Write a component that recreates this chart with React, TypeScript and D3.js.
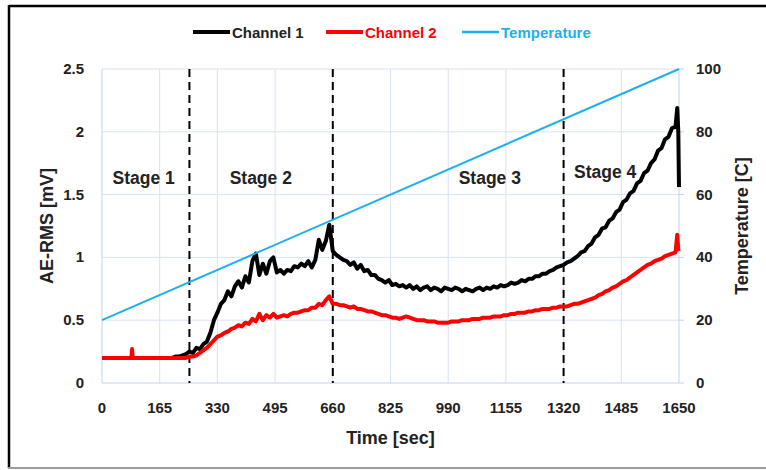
import React from "react";
import * as d3 from "d3";

// Sample times [sec]
const time = [
  0, 10, 20, 30, 40, 50, 60, 70, 80, 84, 86, 88, 90, 100, 110, 120, 130, 140, 150, 160,
  170, 180, 190, 200, 210, 220, 230, 240, 250, 260, 270, 280, 290, 300, 310, 320, 330, 340, 350, 360,
  370, 380, 390, 400, 410, 420, 430, 440, 450, 460, 470, 480, 490, 500, 510, 520, 530, 540, 550, 560,
  570, 580, 590, 600, 610, 620, 630, 640, 650, 660, 670, 680, 690, 700, 710, 720, 730, 740, 750, 760,
  770, 780, 790, 800, 810, 820, 830, 840, 850, 860, 870, 880, 890, 900, 910, 920, 930, 940, 950, 960,
  970, 980, 990, 1000, 1010, 1020, 1030, 1040, 1050, 1060, 1070, 1080, 1090, 1100, 1110, 1120, 1130, 1140, 1150, 1160,
  1170, 1180, 1190, 1200, 1210, 1220, 1230, 1240, 1250, 1260, 1270, 1280, 1290, 1300, 1310, 1320, 1330, 1340, 1350, 1360,
  1370, 1380, 1390, 1400, 1410, 1420, 1430, 1440, 1450, 1460, 1470, 1480, 1490, 1500, 1510, 1520, 1530, 1540, 1550, 1560,
  1570, 1580, 1590, 1600, 1610, 1620, 1630, 1640, 1645, 1648, 1650,
];

// AE-RMS, channel 1 [mV]
const channel1 = [
  0.2, 0.2, 0.2, 0.2, 0.2, 0.2, 0.2, 0.2, 0.2, 0.2, 0.2, 0.2, 0.2, 0.2, 0.2, 0.2, 0.2, 0.2, 0.2, 0.2,
  0.2, 0.2, 0.2, 0.2, 0.21, 0.21, 0.22, 0.23, 0.25, 0.24, 0.28, 0.27, 0.31, 0.33, 0.4, 0.5, 0.56, 0.63, 0.66, 0.73,
  0.69, 0.77, 0.81, 0.76, 0.85, 0.8, 0.97, 1.03, 0.86, 0.95, 0.87, 0.97, 1.0, 0.88, 0.9, 0.87, 0.9, 0.89, 0.93, 0.92,
  0.95, 0.93, 0.97, 0.92, 0.98, 1.14, 1.06, 1.13, 1.26, 1.05, 1.02, 1.0, 0.98, 0.97, 0.94, 0.96, 0.91, 0.94, 0.89, 0.9,
  0.86, 0.86, 0.83, 0.82, 0.8, 0.82, 0.78, 0.79, 0.77, 0.78, 0.76, 0.78, 0.75, 0.77, 0.74, 0.76, 0.77, 0.74, 0.76, 0.75,
  0.73, 0.76, 0.75, 0.74, 0.76, 0.75, 0.73, 0.75, 0.74, 0.73, 0.75, 0.76, 0.74, 0.76, 0.75, 0.77, 0.76, 0.78, 0.77, 0.78,
  0.8, 0.79, 0.8, 0.82, 0.81, 0.83, 0.83, 0.85, 0.85, 0.87, 0.87, 0.89, 0.9, 0.92, 0.93, 0.94, 0.96, 0.97, 0.99, 1.01,
  1.04, 1.05, 1.09, 1.11, 1.16, 1.18, 1.23, 1.24, 1.29, 1.31, 1.36, 1.38, 1.44, 1.46, 1.51, 1.53, 1.59, 1.61, 1.67, 1.69,
  1.75, 1.78, 1.85, 1.87, 1.94, 1.96, 2.03, 2.04, 2.19, 2.0, 1.56,
];

// AE-RMS, channel 2 [mV]
const channel2 = [
  0.2, 0.2, 0.2, 0.2, 0.2, 0.2, 0.2, 0.2, 0.2, 0.2, 0.27, 0.2, 0.2, 0.2, 0.2, 0.2, 0.2, 0.2, 0.2, 0.2,
  0.2, 0.2, 0.2, 0.2, 0.2, 0.2, 0.2, 0.2, 0.21, 0.21, 0.22, 0.24, 0.26, 0.28, 0.31, 0.34, 0.37, 0.38, 0.4, 0.41,
  0.43, 0.44, 0.46, 0.45, 0.48, 0.47, 0.51, 0.49, 0.55, 0.5, 0.54, 0.52, 0.55, 0.52, 0.53, 0.54, 0.53, 0.55, 0.56, 0.56,
  0.57, 0.58, 0.58, 0.6, 0.6, 0.63, 0.62, 0.66, 0.69, 0.63, 0.63, 0.62, 0.62, 0.61, 0.6, 0.61, 0.59, 0.59, 0.58, 0.57,
  0.57, 0.56, 0.55, 0.54, 0.54, 0.53, 0.52, 0.52, 0.51, 0.52, 0.53, 0.52, 0.51, 0.5, 0.5, 0.5, 0.49, 0.49, 0.49, 0.48,
  0.48, 0.48, 0.48, 0.49, 0.49, 0.49, 0.5, 0.5, 0.5, 0.51, 0.51, 0.51, 0.52, 0.52, 0.52, 0.53, 0.53, 0.53, 0.54, 0.54,
  0.55, 0.55, 0.56, 0.56, 0.56, 0.57, 0.57, 0.58, 0.58, 0.59, 0.59, 0.59, 0.6, 0.6, 0.61, 0.61, 0.61, 0.62, 0.63, 0.63,
  0.64, 0.65, 0.66, 0.67, 0.68, 0.7, 0.71, 0.73, 0.74, 0.76, 0.77, 0.79, 0.81, 0.82, 0.84, 0.86, 0.88, 0.9, 0.92, 0.94,
  0.95, 0.97, 0.98, 0.99, 1.01, 1.02, 1.03, 1.04, 1.18, 1.06, 1.05,
];

// Heating ramp [C]
const tempTime = [0, 1650];
const temperature = [20, 100];

const xTicks = [0, 165, 330, 495, 660, 825, 990, 1155, 1320, 1485, 1650];
const yTicksLeft = [0, 0.5, 1, 1.5, 2, 2.5];
const yTicksRight = [0, 20, 40, 60, 80, 100];

// Stage boundaries [sec] and labels
const stageBounds = [250, 660, 1320];
const stageLabels = [
  { name: "Stage 1", t: 30, v: 1.585 },
  { name: "Stage 2", t: 365, v: 1.585 },
  { name: "Stage 3", t: 1020, v: 1.585 },
  { name: "Stage 4", t: 1350, v: 1.63 },
];

const legendItems = [
  { name: "Channel 1", color: "#000000" },
  { name: "Channel 2", color: "#ff0000" },
  { name: "Temperature", color: "#1cb0ec" },
];

const FONT = "'Liberation Sans', Arial, sans-serif";

export default function App() {
  const left = 102;
  const right = 679;
  const top = 69;
  const bottom = 383;

  const x = d3.scaleLinear().domain([0, 1650]).range([left, right]);
  const yL = d3.scaleLinear().domain([0, 2.5]).range([bottom, top]);
  const yR = d3.scaleLinear().domain([0, 100]).range([bottom, top]);

  const aeLine = d3
    .line<number>()
    .x((_, i) => x(time[i]))
    .y((d) => yL(d));
  const tempLine = d3
    .line<number>()
    .x((_, i) => x(tempTime[i]))
    .y((d) => yR(d));

  const gridColor = "#d9e3f2";
  const axisColor = "#c2d3ea";

  const legendX = [193, 326, 462];

  return (
    <svg
      width={766}
      height={470}
      style={{ position: "absolute", left: 0, top: 0, background: "#fff" }}
      fontFamily={FONT}
    >
      <rect x={0} y={0} width={766} height={470} fill="#fff" />
      {/* frame */}
      <line x1={9} y1={6} x2={766} y2={6} stroke="#000" strokeWidth={2.5} />
      <line x1={9} y1={5} x2={9} y2={468} stroke="#000" strokeWidth={2.5} />
      <line x1={8} y1={468} x2={766} y2={468} stroke="#9a9a9a" strokeWidth={2} />

      {/* gridlines */}
      {xTicks.slice(1, -1).map((t) => (
        <line key={"gx" + t} x1={x(t)} x2={x(t)} y1={top} y2={bottom} stroke={gridColor} strokeWidth={1} />
      ))}
      {yTicksLeft.slice(1).map((v) => (
        <line key={"gy" + v} x1={left} x2={right} y1={yL(v)} y2={yL(v)} stroke={gridColor} strokeWidth={1} />
      ))}

      {/* axes */}
      <line x1={left} x2={left} y1={top} y2={bottom} stroke={axisColor} />
      <line x1={right} x2={right} y1={top} y2={bottom} stroke={axisColor} />
      <line x1={left} x2={right} y1={bottom} y2={bottom} stroke={axisColor} />
      {yTicksRight.map((v) => (
        <line key={"rt" + v} x1={right} x2={right + 5} y1={yR(v)} y2={yR(v)} stroke={axisColor} />
      ))}

      {/* stage boundaries */}
      {stageBounds.map((t) => (
        <line
          key={"sb" + t}
          x1={x(t)}
          x2={x(t)}
          y1={top}
          y2={bottom}
          stroke="#000"
          strokeWidth={2}
          strokeDasharray="8,5"
        />
      ))}

      {/* series */}
      <path d={aeLine(channel1) || ""} fill="none" stroke="#000" strokeWidth={4} strokeLinejoin="round" />
      <path d={aeLine(channel2) || ""} fill="none" stroke="#ff0000" strokeWidth={4} strokeLinejoin="round" />
      <path d={tempLine(temperature) || ""} fill="none" stroke="#1cb0ec" strokeWidth={2} />

      {/* stage labels */}
      {stageLabels.map((s) => (
        <text key={s.name} x={x(s.t)} y={yL(s.v)} fontSize={17.5} fontWeight="bold" fill="#222">
          {s.name}
        </text>
      ))}

      {/* tick labels */}
      {yTicksLeft.map((v) => (
        <text key={"yl" + v} x={84} y={yL(v) + 5} textAnchor="end" fontSize={15} fontWeight="bold" fill="#222">
          {v}
        </text>
      ))}
      {yTicksRight.map((v) => (
        <text key={"yr" + v} x={696} y={yR(v) + 5} textAnchor="start" fontSize={15} fontWeight="bold" fill="#222">
          {v}
        </text>
      ))}
      {xTicks.map((t) => (
        <text key={"xt" + t} x={x(t)} y={413} textAnchor="middle" fontSize={15} fontWeight="bold" fill="#222">
          {t}
        </text>
      ))}

      {/* axis titles */}
      <text x={(left + right) / 2} y={444} textAnchor="middle" fontSize={18} fontWeight="bold" fill="#222">
        Time [sec]
      </text>
      <text
        transform={`translate(53, ${(top + bottom) / 2}) rotate(-90)`}
        textAnchor="middle"
        fontSize={18}
        fontWeight="bold"
        fill="#222"
      >
        AE-RMS [mV]
      </text>
      <text
        transform={`translate(748, ${(top + bottom) / 2}) rotate(-90)`}
        textAnchor="middle"
        fontSize={18}
        fontWeight="bold"
        fill="#222"
      >
        Temperature [C]
      </text>

      {/* legend */}
      {legendItems.map((it, i) => (
        <g key={it.name}>
          <line x1={legendX[i]} x2={legendX[i] + 37} y1={32} y2={32} stroke={it.color} strokeWidth={it.name === "Temperature" ? 2.5 : 4} />
          <text x={legendX[i] + 39} y={37.5} fontSize={15} fontWeight="bold" fill={it.color === "#000000" ? "#222" : it.color}>
            {it.name}
          </text>
        </g>
      ))}
    </svg>
  );
}
